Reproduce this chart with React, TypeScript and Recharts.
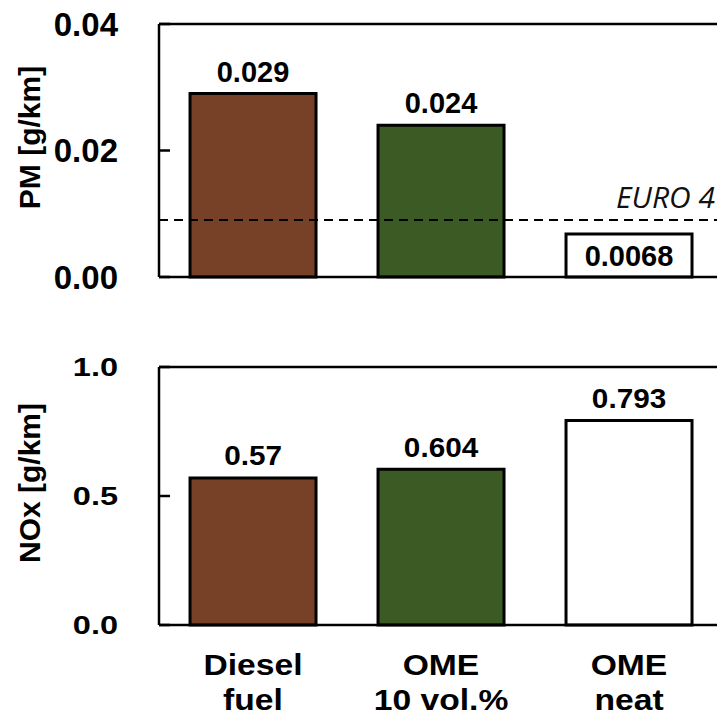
import React from 'react';
import { BarChart, Bar, XAxis, YAxis, Cell, LabelList, ReferenceLine } from 'recharts';

// values
const categories = ['Diesel\nfuel', 'OME\n10 vol.%', 'OME\nneat'];
const pmValues = [0.029, 0.024, 0.0068];
const noxValues = [0.57, 0.604, 0.793];
const pmTicks = [0, 0.02, 0.04];
const noxTicks = [0, 0.5, 1.0];
const euro4Limit = 0.009;

const fills = ['#774128', '#3b5a24', '#ffffff'];
const FONT = '"Liberation Sans", Arial, Helvetica, sans-serif';

const data = categories.map((category, i) => ({
  category,
  pm: pmValues[i],
  nox: noxValues[i],
}));

const YTick = ({ x, y, payload, digits, fontSize, stretch }: any) => (
  <text
    transform={`translate(${x},${y}) scale(${stretch},1)`}
    textAnchor="end"
    dominantBaseline="central"
    fontFamily={FONT}
    fontWeight="bold"
    fontSize={fontSize}
    fill="#000"
  >
    {Number(payload.value).toFixed(digits)}
  </text>
);

const XTick = ({ x, y, payload }: any) => {
  const lines = String(payload.value).split('\n');
  return (
    <g>
      {lines.map((line, i) => (
        <text
          key={i}
          transform={`translate(${x},${y + 50 + i * 35}) scale(1.16,1)`}
          textAnchor="middle"
          fontFamily={FONT}
          fontWeight="bold"
          fontSize={29}
          fill="#000"
        >
          {line}
        </text>
      ))}
    </g>
  );
};

const BarValue = (props: any) => {
  const vb = props.viewBox ?? props;
  const { x, y, width, height } = vb;
  const inside = height < 50;
  const cx = x + width / 2;
  const cy = inside ? y + height / 2 + 1 : y - 22;
  return (
    <text
      transform={`translate(${cx},${cy}) scale(${props.stretch ?? 1},1)`}
      textAnchor="middle"
      dominantBaseline="central"
      fontFamily={FONT}
      fontWeight="bold"
      fontSize={props.fontSize}
      fill="#000"
    >
      {props.value}
    </text>
  );
};

const AxisTitle = ({ viewBox, text }: any) => {
  const cx = viewBox.x + 29;
  const cy = viewBox.y + viewBox.height / 2 - 13;
  return (
    <text
      transform={`translate(${cx},${cy}) rotate(-90)`}
      textAnchor="middle"
      dominantBaseline="central"
      fontFamily={FONT}
      fontWeight="bold"
      fontSize={30}
      fill="#000"
    >
      {text}
    </text>
  );
};

const EuroLabel = ({ viewBox }: any) => (
  <text
    x={viewBox.x + viewBox.width - 8}
    y={viewBox.y - 12}
    textAnchor="end"
    fontFamily='"Open Sans", sans-serif'
    fontStyle="italic"
    fontSize={30}
    fill="#111"
  >
    EURO 4
  </text>
);

export default function App() {
  return (
    <div
      style={{
        position: 'fixed',
        left: 0,
        top: 0,
        width: 717,
        height: 720,
        overflow: 'hidden',
        background: '#fff',
      }}
    >
      {/* PM panel */}
      <div style={{ position: 'absolute', left: 0, top: 0 }}>
        <BarChart
          width={740}
          height={305}
          data={data}
          margin={{ top: 24, right: 17, bottom: 15, left: 0 }}
          barCategoryGap="16.5%"
        >
          <XAxis
            dataKey="category"
            height={13}
            tick={false}
            tickLine={false}
            axisLine={{ stroke: '#000', strokeWidth: 2.5 }}
          />
          <YAxis
            width={159}
            domain={[0, 0.04]}
            ticks={pmTicks}
            tickSize={-11}
            tickMargin={52}
            axisLine={{ stroke: '#000', strokeWidth: 2.5 }}
            tickLine={{ stroke: '#000', strokeWidth: 2.5 }}
            tick={<YTick digits={2} fontSize={33} stretch={1} />}
            label={<AxisTitle text="PM [g/km]" />}
          />
          <Bar dataKey="pm" stroke="#000" strokeWidth={3} isAnimationActive={false}>
            {data.map((d, i) => (
              <Cell key={d.category} fill={fills[i]} />
            ))}
            <LabelList dataKey="pm" content={<BarValue fontSize={29} stretch={1} />} />
          </Bar>
          <ReferenceLine
            y={euro4Limit}
            stroke="#000"
            strokeWidth={2}
            strokeDasharray="9 6"
            label={<EuroLabel />}
          />
          <ReferenceLine y={0.04} stroke="#000" strokeWidth={2.5} />
        </BarChart>
      </div>

      {/* NOx panel */}
      <div style={{ position: 'absolute', left: 0, top: 340 }}>
        <BarChart
          width={740}
          height={380}
          data={data}
          margin={{ top: 27, right: 17, bottom: 0, left: 0 }}
          barCategoryGap="16.5%"
        >
          <XAxis
            dataKey="category"
            height={95}
            tickSize={0}
            tickMargin={0}
            tickLine={false}
            axisLine={{ stroke: '#000', strokeWidth: 2.5 }}
            tick={<XTick />}
            interval={0}
          />
          <YAxis
            width={159}
            domain={[0, 1]}
            ticks={noxTicks}
            tickSize={-11}
            tickMargin={52}
            axisLine={{ stroke: '#000', strokeWidth: 2.5 }}
            tickLine={{ stroke: '#000', strokeWidth: 2.5 }}
            tick={<YTick digits={1} fontSize={26} stretch={1.25} />}
            label={<AxisTitle text="NOx [g/km]" />}
          />
          <Bar dataKey="nox" stroke="#000" strokeWidth={3} isAnimationActive={false}>
            {data.map((d, i) => (
              <Cell key={d.category} fill={fills[i]} />
            ))}
            <LabelList dataKey="nox" content={<BarValue fontSize={27} stretch={1.1} />} />
          </Bar>
          <ReferenceLine y={1} stroke="#000" strokeWidth={2.5} />
        </BarChart>
      </div>
    </div>
  );
}
